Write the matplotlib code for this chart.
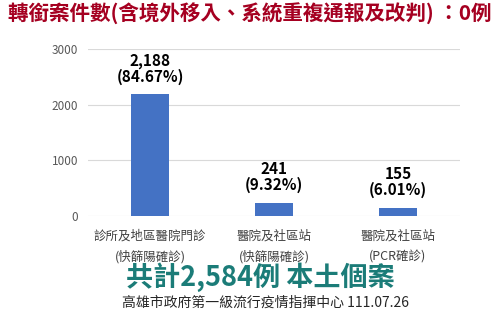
import matplotlib.pyplot as plt

plt.rcParams['font.family'] = ['Noto Sans CJK TC', 'DejaVu Sans']

categories = ["診所及地區醫院門診\n(快篩陽確診)", "醫院及社區站\n(快篩陽確診)", "醫院及社區站\n(PCR確診)"]
counts = [2188, 241, 155]
shares = ["84.67%", "9.32%", "6.01%"]
yticks = [0, 1000, 2000, 3000]

fig = plt.figure(figsize=(5.0, 3.11), dpi=100)
ax = fig.add_axes([0.176, 0.305, 0.744, 0.537])

x = range(len(counts))
ax.bar(x, counts, width=0.31, color="#4472C4", zorder=3)
for i, (c, s) in enumerate(zip(counts, shares)):
    ax.text(i, c + 170, f"{c:,}\n({s})", ha="center", va="bottom",
            fontsize=11, fontweight="bold", color="black", linespacing=1.0)

ax.set_xlim(-0.5, 2.5)
ax.set_ylim(0, 3000)
ax.set_yticks(yticks)
ax.set_yticklabels([str(t) for t in yticks], fontsize=8.5, color="#595959")
ax.set_xticks(list(x))
ax.set_xticklabels(categories, fontsize=9, color="#404040", linespacing=1.7)
ax.tick_params(length=0, pad=7)
ax.tick_params(axis="x", pad=10)
ax.grid(axis="y", color="#D9D9D9", linewidth=0.8, zorder=0)
for sp in ax.spines.values():
    sp.set_visible(False)

fig.text(0.5, 0.954, "轉銜案件數(含境外移入、系統重複通報及改判) ：0例", ha="center",
         va="center", fontsize=14.8, fontweight="bold", color="#A50021")
fig.text(0.52, 0.108, "共計2,584例 本土個案", ha="center", va="center",
         fontsize=19.5, fontweight="bold", color="#1B7C78")
fig.text(0.244, 0.028, "高雄市政府第一級流行疫情指揮中心 111.07.26", ha="left",
         va="center", fontsize=10, fontweight="medium", color="#262626")

fig.savefig("out.png", dpi=100)
